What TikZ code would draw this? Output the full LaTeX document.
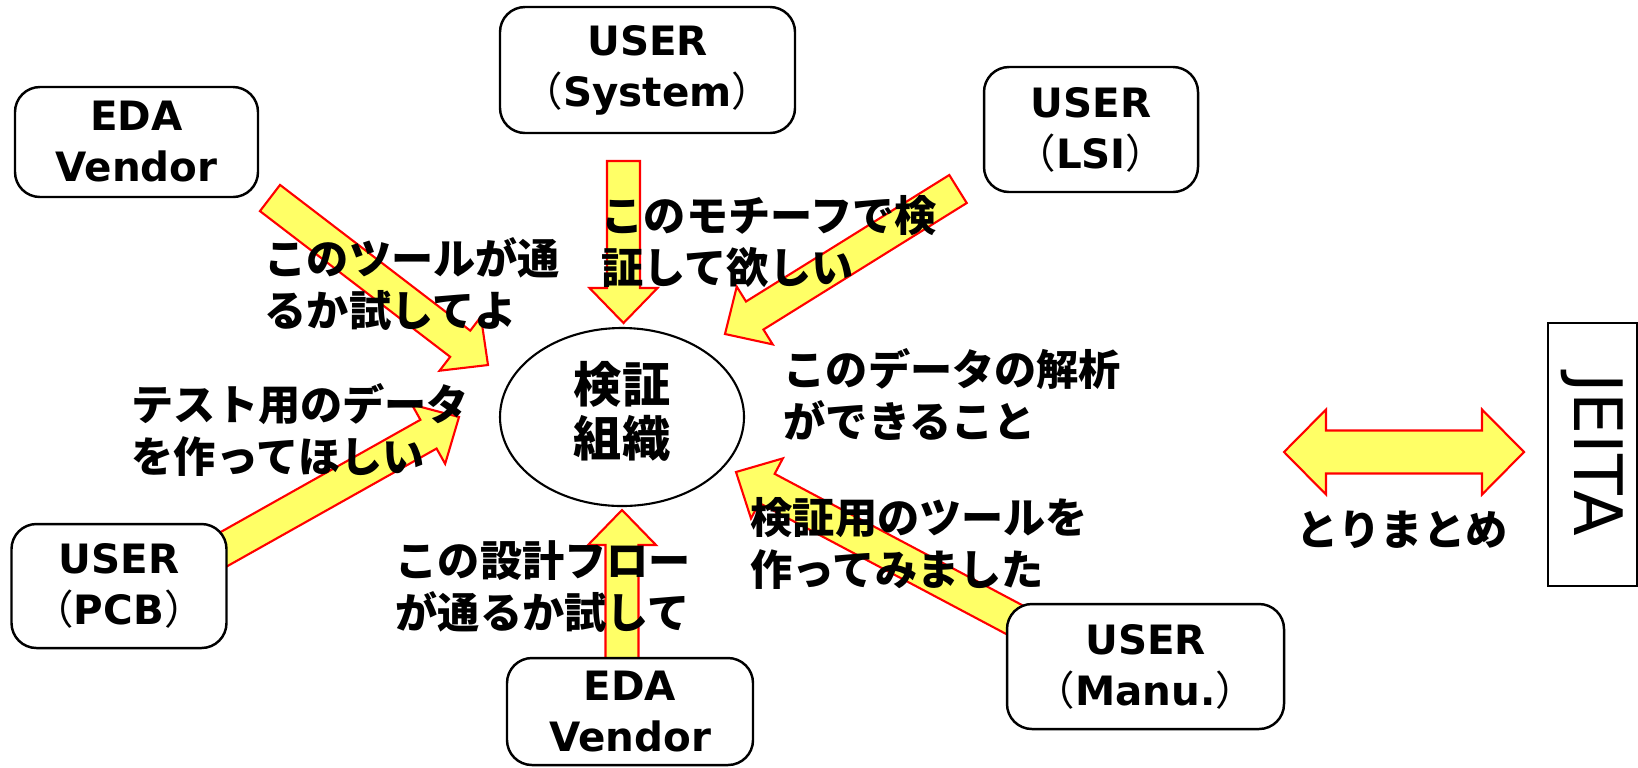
\documentclass[tikz,border=0pt]{standalone}
\usepackage{fontspec}
\setmainfont{DejaVu Sans}
\newfontfamily\jp{Noto Sans CJK JP}
\usetikzlibrary{calc,shapes.geometric}
\definecolor{arrowyellow}{HTML}{FFFF66}
\definecolor{arrowred}{HTML}{FF0000}
\newcommand\latinfont{\bfseries\fontsize{11.5}{14.5}\selectfont}
\newcommand\jpfont{\jp\bfseries\fontsize{12}{14.8}\selectfont}
\newcommand\openp{{\jp\mdseries （}}
\newcommand\closep{{\jp\mdseries ）}}
\newcommand\shaftw{0.165cm}
\newcommand\headw{0.34cm}
\newcommand\headlen{0.35cm}
% block arrow from #1 (tail) to #2 (tip)
\newcommand\fatarrow[2]{%
  \coordinate (fa-base) at ($(#2)!\headlen!(#1)$);
  \filldraw[fat arrow] ($(#1)!\shaftw!90:(#2)$) -- ($(fa-base)!\shaftw!90:(#2)$)
    -- ($(fa-base)!\headw!90:(#2)$) -- (#2) -- ($(fa-base)!\headw!-90:(#2)$)
    -- ($(fa-base)!\shaftw!-90:(#2)$) -- ($(#1)!\shaftw!-90:(#2)$) -- cycle;
}
\begin{document}
\begin{tikzpicture}[y=-1cm,
    party/.style={draw, line width=0.7pt, rounded corners=0.25cm, fill=white,
      align=center, inner sep=0, font=\latinfont},
    remark/.style={anchor=west, align=left, inner sep=0, font=\jpfont},
    fat arrow/.style={fill=arrowyellow, draw=arrowred, line width=0.6pt}]
  \useasboundingbox (0,0) rectangle (16.38,7.67);
  % ends of the arrows
  \coordinate (edaT-tail) at (2.70,1.98);
  \coordinate (edaT-tip) at (4.88,3.65);
  \coordinate (sys-tail) at (6.235,1.61);
  \coordinate (sys-tip) at (6.235,3.23);
  \coordinate (lsi-tail) at (9.58,1.89);
  \coordinate (lsi-tip) at (7.25,3.34);
  \coordinate (pcb-tail) at (2.17,5.53);
  \coordinate (pcb-tip) at (4.59,4.17);
  \coordinate (edaB-tail) at (6.22,6.60);
  \coordinate (edaB-tip) at (6.22,5.10);
  \coordinate (manu-tail) at (10.15,6.20);
  \coordinate (manu-tip) at (7.36,4.72);
  \coordinate (sum-a) at (12.84,4.52);
  \coordinate (sum-b) at (15.24,4.52);

  \fatarrow{edaT-tail}{edaT-tip}
  \fatarrow{sys-tail}{sys-tip}
  \fatarrow{lsi-tail}{lsi-tip}
  \fatarrow{pcb-tail}{pcb-tip}
  \fatarrow{edaB-tail}{edaB-tip}
  \fatarrow{manu-tail}{manu-tip}
  % double arrow towards JEITA
  \coordinate (sa-h) at ($(sum-a)!0.42cm!(sum-b)$);
  \coordinate (sb-h) at ($(sum-b)!0.42cm!(sum-a)$);
  \filldraw[fat arrow] (sum-a) -- ($(sa-h)!0.425cm!90:(sum-b)$) -- ($(sa-h)!0.215cm!90:(sum-b)$)
    -- ($(sb-h)!0.215cm!90:(sum-b)$) -- ($(sb-h)!0.425cm!90:(sum-b)$) -- (sum-b)
    -- ($(sb-h)!0.425cm!-90:(sum-b)$) -- ($(sb-h)!0.215cm!-90:(sum-b)$)
    -- ($(sa-h)!0.215cm!-90:(sum-b)$) -- ($(sa-h)!0.425cm!-90:(sum-b)$) -- cycle;

  \node[party, minimum width=2.43cm, minimum height=1.10cm] (edaT) at (1.365,1.42) {EDA\\Vendor};
  \node[party, minimum width=2.95cm, minimum height=1.26cm] (sys) at (6.475,0.70) {USER\\\openp System\closep};
  \node[party, minimum width=2.14cm, minimum height=1.25cm] (lsi) at (10.91,1.295) {USER\\\openp LSI\closep};
  \node[party, minimum width=2.15cm, minimum height=1.24cm] (pcb) at (1.19,5.86) {USER\\\openp PCB\closep};
  \node[party, minimum width=2.46cm, minimum height=1.07cm] (edaB) at (6.30,7.115) {EDA\\Vendor};
  \node[party, minimum width=2.77cm, minimum height=1.25cm] (manu) at (11.455,6.665) {USER\\\openp Manu.\closep};
  \node[draw, line width=0.6pt, ellipse, minimum width=2.44cm, minimum height=1.78cm, inner sep=0,
    align=center, font=\jp\bfseries\fontsize{13.7}{15.4}\selectfont] (org) at (6.22,4.17) {\\[-0.9ex]検証\\組織};
  \node[draw, line width=0.7pt, rotate=-90, minimum width=2.63cm, minimum height=0.89cm, inner sep=0,
    font=\fontsize{19}{22}\selectfont] (jeita) at (15.925,4.545) {JEITA};

  \node[remark] (t-tool) at (2.64,2.84) {このツールが通\\るか試してよ};
  \node[remark] (t-motif) at (6.01,2.415) {このモチーフで検\\証して欲しい};
  \node[remark] (t-data) at (7.83,3.945) {このデータの解析\\ができること};
  \node[remark] (t-test) at (1.31,4.295) {テスト用のデータ\\を作ってほしい};
  \node[remark] (t-flow) at (3.95,5.87) {この設計フロー\\が通るか試して};
  \node[remark] (t-made) at (7.50,5.435) {検証用のツールを\\作ってみました};
  \node[font=\jpfont, inner sep=0] (t-sum) at (14.02,5.30) {とりまとめ};
\end{tikzpicture}
\end{document}
